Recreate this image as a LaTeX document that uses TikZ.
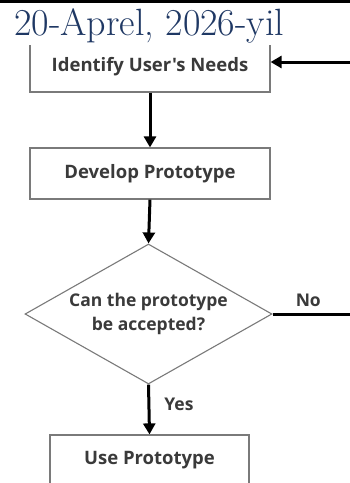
\documentclass[tikz,border=0pt]{standalone}
\usepackage{fontspec}
\newfontfamily\boxfont{Open Sans}
\usetikzlibrary{arrows.meta,shapes.geometric}
\definecolor{navy}{HTML}{1F3864}
\definecolor{boxtext}{HTML}{3A3A3A}
\definecolor{boxline}{HTML}{7A7A7A}
\begin{document}
\begin{tikzpicture}[x=1pt,y=-1pt,
  stepbox/.style={draw=boxline,line width=1.2pt,fill=white,inner sep=0pt,
    font=\boxfont\bfseries\fontsize{18.5}{22}\selectfont,text=boxtext},
  lbl/.style={font=\boxfont\bfseries\fontsize{17.5}{21}\selectfont,text=boxtext,inner sep=0pt},
  flow/.style={line width=3pt,draw=black,-{Triangle[length=11pt,width=12pt]}},
  plain/.style={line width=3pt,draw=black}]
\useasboundingbox (0,0) rectangle (350,483);
\clip (0,0) rectangle (350,483);
\fill[white] (0,0) rectangle (350,483);
% boxes
\node[stepbox,minimum width=240pt,minimum height=51pt] (b1) at (150,66.5) {Identify User's Needs};
\node[stepbox,minimum width=240pt,minimum height=51pt] (b2) at (150,173.5) {Develop Prototype};
\node[diamond,draw=boxline,line width=1.1pt,inner sep=0pt,minimum width=247pt,minimum height=140pt] (d) at (148.5,314) {};
\node[lbl,align=center] (dt) at (d.center) {Can the prototype\\[3pt]be accepted?};
\node[stepbox,minimum width=199pt,minimum height=51pt] (b3) at (149.5,460.5) {Use Prototype};
% side coordinates
\coordinate (noend) at (352,314);
\coordinate (retstart) at (352,62);
% connectors
\draw[flow] (b1.south) -- (b2.north);
\draw[flow] (b2.south) -- (d.north);
\draw[flow] (d.south) -- node[lbl,right=14pt,pos=0.4] (yes) {Yes} (b3.north);
\draw[plain] (d.east) -- node[lbl,above=6pt,pos=0.45] (no) {No} (noend);
\draw[flow] (retstart) -- (retstart -| b1.east);
% header
\fill[white] (0,0) rectangle (350,45);
\draw[line width=3pt,black] (0,1.5) -- (350,1.5);
\node[anchor=base west,inner sep=0pt,text=navy,font=\fontsize{38}{44}\selectfont] (hdr) at (14,35) {20-Aprel, 2026-yil};
\end{tikzpicture}
\end{document}
